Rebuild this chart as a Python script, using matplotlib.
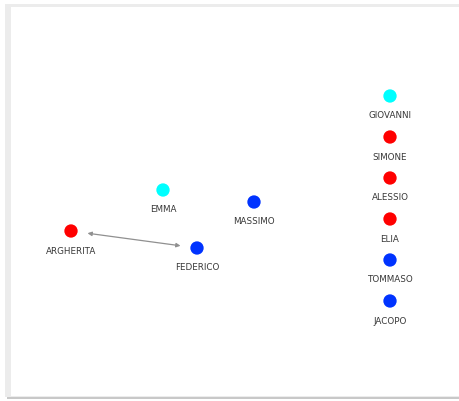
import matplotlib
matplotlib.use("Agg")
import matplotlib.pyplot as plt
from matplotlib.patches import Rectangle

# sociogram nodes (position in picture pixels)
names = ["GIOVANNI", "SIMONE", "ALESSIO", "ELIA", "TOMMASO", "JACOPO",
         "EMMA", "MASSIMO", "ARGHERITA", "FEDERICO"]
node_x = [390, 390, 390, 390, 390, 390, 163, 254, 71, 197]
node_y = [96, 137, 178, 219, 260, 301, 190, 202, 231, 248]
groups = ["cyan", "red", "red", "red", "blue", "blue",
          "cyan", "blue", "red", "blue"]
group_colors = {"cyan": "#00ffff", "red": "#ff0000", "blue": "#0033ff"}

# links between nodes (both directions)
links = [("ARGHERITA", "FEDERICO")]

fig = plt.figure(figsize=(4.59, 4.01), dpi=100)
ax = fig.add_axes([0, 0, 1, 1])
ax.set_xlim(0, 459)
ax.set_ylim(401, 0)
ax.axis("off")

# frame with a soft shadow on the left and bottom
ax.add_patch(Rectangle((7, 7), 460, 392, facecolor="#c8c8c8", edgecolor="none", zorder=0))
ax.add_patch(Rectangle((5, 4), 460, 393, facecolor="#ececec", edgecolor="none", zorder=0))
ax.add_patch(Rectangle((11, 7), 460, 389, facecolor="white", edgecolor="none", zorder=1))

pos = dict(zip(names, zip(node_x, node_y)))
for a, b in links:
    (x1, y1), (x2, y2) = pos[a], pos[b]
    ax.annotate("", xy=(x2, y2), xytext=(x1, y1),
                arrowprops=dict(arrowstyle="<|-|>", color="#909090", lw=0.9,
                                mutation_scale=6, shrinkA=12, shrinkB=12),
                zorder=2)

for n, x, y, g in zip(names, node_x, node_y, groups):
    ax.scatter([x], [y], s=92, color=group_colors[g], edgecolors="none", zorder=3)
    ax.text(x, y + 20, n, ha="center", va="center", fontsize=6.3,
            color="#383838", zorder=3)

fig.savefig("out.png", dpi=100)
